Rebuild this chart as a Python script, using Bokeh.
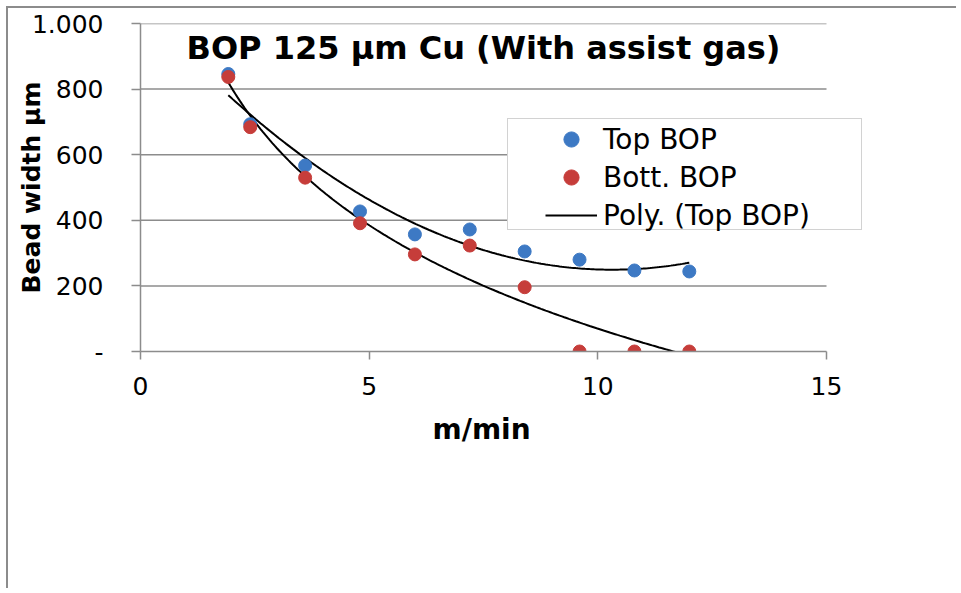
import numpy as np
from bokeh.plotting import figure
from bokeh.models import (Legend, LegendItem, FixedTicker, Label, Range1d,
                          InlineStyleSheet, Title)
from bokeh.embed import file_html
from bokeh.resources import INLINE

# ---- data ----
speed = [1.92, 2.4, 3.6, 4.8, 6.0, 7.2, 8.4, 9.6, 10.8, 12.0]          # m/min
top_bop = [846, 693, 567, 427, 357, 372, 305, 280, 247, 244]           # µm
bott_bop = [837, 684, 530, 391, 296, 323, 196, 0, 0, 0]                # µm

y_ticks = [0, 200, 400, 600, 800, 1000]
y_tick_labels = ["-", "200", "400", "600", "800", "1.000"]
x_ticks = [0, 5, 10, 15]

title_text = "BOP 125 µm Cu (With assist gas)"
x_label = "m/min"
y_label = "Bead width µm"
legend_labels = ["Top BOP", "Bott. BOP", "Poly. (Top BOP)"]

BLUE = "#3D79C4"
RED = "#C63D3A"
GRID = "#8C8C8C"
FONT = "DejaVu Sans"

# x axis runs 0..15; the plotting area is a little wider so the legend box
# (which overhangs the axis end in the original) is not clipped
PX_PER_UNIT = 686 / 15
x_end = 722 / PX_PER_UNIT

p = figure(width=950, height=582, output_backend="svg", toolbar_location=None,
           x_range=Range1d(0, x_end), y_range=Range1d(0, 1000),
           min_border_left=132, min_border_right=96,
           min_border_top=15, min_border_bottom=239)
p.outline_line_color = None
p.background_fill_color = "white"
p.border_fill_color = "white"
p.stylesheets = [InlineStyleSheet(css=(
    ":host { border-left: 2px solid #8C8C8C; border-top: 2px solid #8C8C8C;"
    " margin-left: 6px; margin-top: 6px; }"))]

# horizontal gridlines, limited to the x axis extent
p.xgrid.visible = False
p.ygrid.visible = False
grid_y = y_ticks[1:]
p.segment(x0=[x_ticks[0]] * len(grid_y), x1=[x_ticks[-1]] * len(grid_y),
          y0=grid_y, y1=grid_y, line_color=GRID, line_width=1.5, level="underlay")

# axes
p.yaxis.ticker = FixedTicker(ticks=y_ticks)
p.yaxis.major_label_overrides = {t: l for t, l in zip(y_ticks, y_tick_labels)}
p.xaxis.ticker = FixedTicker(ticks=x_ticks)
p.xaxis.bounds = (x_ticks[0], x_ticks[-1])
for ax in (p.xaxis[0], p.yaxis[0]):
    ax.axis_line_color = GRID
    ax.axis_line_width = 1.5
    ax.major_tick_line_color = GRID
    ax.major_tick_line_width = 1.5
    ax.major_tick_in = 0
    ax.minor_tick_line_color = None
    ax.major_label_text_font = FONT
    ax.major_label_text_font_size = "25px"
    ax.major_label_text_color = "black"
    ax.axis_label_text_font = FONT
    ax.axis_label_text_font_style = "bold"
    ax.axis_label_text_color = "black"
p.yaxis.major_tick_out = 9
p.yaxis.major_label_standoff = 28
p.yaxis.axis_label = y_label
p.yaxis.axis_label_text_font_size = "25px"
p.yaxis.axis_label_standoff = -17
p.xaxis.major_tick_out = 8
p.xaxis.major_label_standoff = 17

# x-axis title, centred under the 0..15 axis (not under the wider plot area)
p.add_layout(Title(text=x_label, align="left", offset=292, standoff=26,
                   text_font=FONT, text_font_size="28px",
                   text_font_style="bold", text_color="black"), "below")

# trendlines: 2nd order polynomial of Top BOP, logarithmic of Bott. BOP
xs = np.linspace(min(speed), max(speed), 200)
top_fit = np.polyval(np.polyfit(speed, top_bop, 2), xs)
bott_fit = np.polyval(np.polyfit(np.log(speed), bott_bop, 1), np.log(xs))

r_top_fit = p.line(xs, top_fit, line_color="black", line_width=2)
r_bott_fit = p.line(xs, bott_fit, line_color="black", line_width=2)

r_top = p.scatter(speed, top_bop, size=13, fill_color=BLUE, line_color=BLUE)
r_bott = p.scatter(speed, bott_bop, size=13, fill_color=RED, line_color=RED)

# chart title inside the plot area
p.add_layout(Label(x=(x_ticks[0] + x_ticks[-1]) / 2, y=924, text=title_text,
                   text_align="center", text_baseline="middle", text_font=FONT,
                   text_font_size="32px", text_font_style="bold",
                   text_color="black"))

# invisible renderer used only to draw the legend box frame
r_blank = p.scatter(x=[], y=[], fill_alpha=0, line_alpha=0)

box = Legend(items=[LegendItem(label=" ", renderers=[r_blank])],
             location=(367, 121), padding=0, spacing=0, margin=0,
             glyph_width=353, glyph_height=110, label_width=0, label_height=0,
             label_standoff=0, label_text_font_size="1px",
             border_line_color="#A6A6A6", border_line_width=1.5,
             background_fill_color="white", background_fill_alpha=1.0)
p.add_layout(box)

legend = Legend(items=[LegendItem(label=legend_labels[0], renderers=[r_top]),
                       LegendItem(label=legend_labels[1], renderers=[r_bott]),
                       LegendItem(label=legend_labels[2], renderers=[r_top_fit])],
                location=(405, 117), padding=0, spacing=0, margin=0,
                glyph_width=52, glyph_height=38, label_height=38,
                label_standoff=6, border_line_color=None,
                background_fill_alpha=0,
                label_text_font=FONT, label_text_font_size="28px",
                label_text_color="black")
p.add_layout(legend)

open("out.html", "w").write(file_html(p, INLINE))
